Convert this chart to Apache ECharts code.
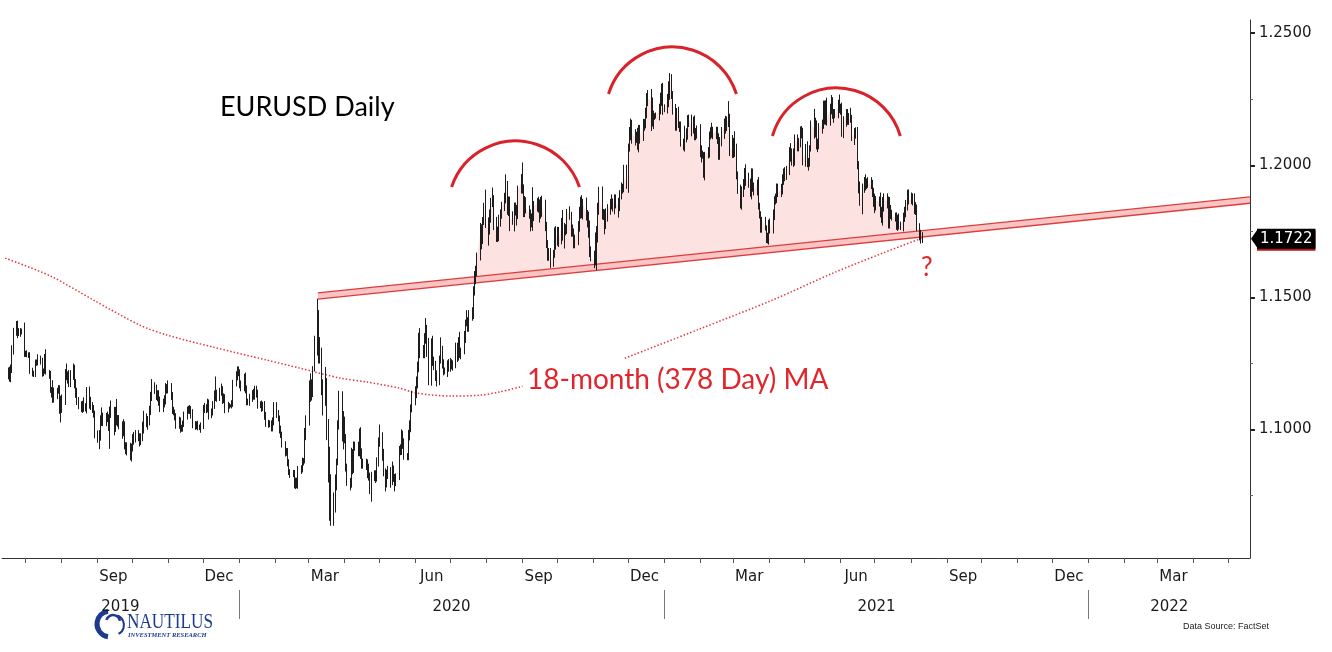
<!DOCTYPE html>
<html><head><meta charset="utf-8">
<script src="https://cdn.jsdelivr.net/npm/echarts@6/dist/echarts.min.js"></script>
<style>html,body{margin:0;padding:0;background:#fff}#c{width:1332px;height:652px}</style>
</head><body><div id="c"></div>
<script>
// ================= DATA =================
const MONTH_NAMES = ['Jan','Feb','Mar','Apr','May','Jun','Jul','Aug','Sep','Oct','Nov','Dec'];
const Y_TICKS = [1.1000, 1.1500, 1.2000, 1.2500];
const Y_MINOR_TICKS = [1.075, 1.125, 1.175, 1.225];
const LAST_PRICE = 1.1722;

// Daily EURUSD, one sub-array per month (weekdays). Price = 1 + pips/10000.
const MONTHS = ['2019-06','2019-07','2019-08','2019-09','2019-10','2019-11','2019-12',
  '2020-01','2020-02','2020-03','2020-04','2020-05','2020-06','2020-07','2020-08','2020-09','2020-10','2020-11','2020-12',
  '2021-01','2021-02','2021-03','2021-04','2021-05','2021-06','2021-07','2021-08'];
const FIRST_DAY_OF_FIRST_MONTH = 17;
const FIRST_OPEN_PIPS = 1210;
const CLOSE_PIPS = [
 [1220,1193,1226,1294,1370,1399,1366,1369,1372,1370],
 [1287,1288,1284,1283,1226,1213,1209,1253,1255,1270,1260,1212,1221,1274,1218,1210,1151,1141,1145,1127,1146,1156,1075],
 [1083,1108,1204,1199,1200,1176,1200,1215,1171,1140,1108,1092,1078,1097,1082,1081,1143,1099,1089,1078,1057,987],
 [970,973,1034,1034,1028,1043,1043,1010,1064,1074,1003,1071,1031,1040,1016,990,1019,940,922,940,899],
 [932,958,966,978,971,956,971,1005,1041,1029,1031,1070,1123,1171,1150,1127,1129,1105,1081,1099,1110,1151,1152],
 [1166,1127,1074,1066,1050,1018,1034,1008,1007,1022,1053,1072,1078,1074,1057,1020,1011,1021,1009,1008,1017],
 [1078,1081,1077,1102,1058,1065,1093,1128,1131,1120,1143,1149,1112,1122,1077,1090,1089,1090,1101,1178,1201,1212],
 [1213,1171,1160,1196,1152,1104,1105,1120,1134,1128,1151,1136,1091,1095,1082,1093,1052,1025,1019,1020,1008,1031,1094],
 [1059,1043,1000,980,944,913,915,873,840,832,837,790,803,791,847,853,879,882,996,1026],
 [1137,1175,1136,1237,1285,1449,1281,1268,1183,1105,1180,993,915,689,694,723,787,888,1030,1141,1039,1029],
 [963,856,802,795,891,856,935,939,914,984,909,867,875,862,856,822,776,820,826,823,875,955],
 [980,907,838,796,833,843,805,849,817,806,819,918,924,976,947,901,899,979,1005,1080,1102],
 [1134,1171,1232,1341,1290,1295,1340,1376,1300,1256,1336,1261,1245,1204,1178,1260,1307,1251,1220,1219,1242,1234],
 [1251,1238,1247,1309,1276,1330,1286,1300,1343,1406,1410,1385,1427,1443,1527,1570,1595,1655,1752,1717,1789,1848,1778],
 [1763,1798,1857,1877,1785,1735,1738,1783,1813,1842,1871,1931,1838,1857,1796,1795,1834,1830,1822,1903,1937],
 [1913,1854,1849,1838,1818,1780,1803,1814,1845,1861,1846,1813,1850,1840,1771,1707,1659,1672,1631,1665,1745,1721],
 [1747,1716,1781,1735,1762,1760,1825,1814,1745,1746,1706,1718,1769,1823,1862,1815,1858,1811,1795,1746,1673,1647],
 [1641,1716,1723,1828,1874,1815,1813,1779,1807,1833,1853,1860,1855,1870,1857,1842,1886,1915,1913,1962,1926],
 [2072,2115,2147,2122,2105,2107,2079,2133,2112,2146,2155,2198,2265,2254,2237,2167,2187,2187,2190,2213,2250,2297,2216],
 [2216,2250,2298,2325,2271,2222,2151,2207,2156,2156,2081,2077,2130,2107,2165,2172,2140,2164,2115,2121,2136],
 [2061,2041,2035,1963,2046,2049,2118,2119,2131,2119,2131,2106,2041,2092,2120,2157,2150,2165,2175,2075],
 [2048,2089,2062,1967,1917,1847,1900,1928,1984,1952,1930,1901,1978,1915,1906,1936,1848,1814,1765,1795,1763,1726,1730],
 [1779,1762,1813,1873,1872,1916,1900,1910,1946,1978,1965,1983,2039,2034,2034,2014,2097,2083,2088,2127,2122,2020],
 [2061,2013,2005,2066,2164,2131,2150,2075,2081,2145,2153,2225,2174,2226,2180,2213,2248,2191,2193,2193,2228],
 [2213,2212,2128,2166,2193,2173,2178,2176,2107,2121,2124,1996,1909,1860,1916,1941,1925,1930,1935,1925,1895,1858],
 [1849,1864,1867,1823,1792,1845,1874,1862,1776,1835,1812,1806,1802,1781,1793,1772,1770,1801,1818,1844,1888,1872],
 [1868,1869,1836,1832,1761,1736,1719,1722]
];
// high = max(open, close) + up wick ; low = min(open, close) - down wick (pips)
const WICK_UP_PIPS = [
 [15,18,20,25,15,12,13,15,12,10],
 [35,10,12,8,10,8,10,12,10,15,10,12,10,12,30,8,12,10,42,14,12,12,12],
 [45,25,25,46,20,25,25,35,30,20,18,15,15,12,25,18,18,20,25,15,15,15],
 [10,25,20,50,30,20,25,15,23,36,12,15,45,15,15,15,20,12,12,12,10],
 [15,25,25,20,20,15,15,25,30,20,20,20,20,20,8,20,20,20,20,18,20,25,20],
 [20,10,15,12,10,12,15,12,10,12,15,15,12,15,15,20,12,10,12,10,10],
 [15,20,15,15,12,15,15,20,70,20,15,25,15,15,12,15,10,5,10,10,20,27],
 [26,15,15,15,20,15,12,15,15,20,15,15,15,12,15,12,15,15,12,15,15,15,10],
 [10,15,10,15,12,12,15,15,15,10,10,10,15,15,15,12,15,10,10,28],
 [49,38,15,3,70,46,3,69,42,7,57,15,47,20,137,39,43,2,5,6,4,31],
 [20,20,15,15,40,35,20,15,15,20,25,20,15,15,25,15,15,20,20,20,20,15],
 [39,10,20,15,15,20,15,30,15,15,15,20,20,25,20,20,10,20,30,15,45],
 [30,30,25,25,43,25,25,46,20,47,9,19,15,15,20,20,42,10,15,15,20,25],
 [20,15,15,20,20,20,40,10,30,10,42,15,25,20,15,30,25,15,30,25,15,10,60],
 [25,35,20,39,10,20,30,30,20,20,25,35,10,25,25,30,25,25,20,20,30],
 [74,15,30,30,10,15,15,103,20,15,20,25,30,35,30,15,10,15,15,15,20,25],
 [20,20,20,50,20,15,10,20,10,30,15,20,20,20,19,25,15,20,20,30,45,20],
 [30,30,47,30,45,46,20,20,30,20,20,30,15,20,20,20,20,20,15,40,40],
 [10,30,30,25,15,20,35,20,20,30,20,20,8,20,35,20,20,10,10,20,25,12,15],
 [15,20,20,24,20,10,10,10,15,10,10,20,20,10,25,20,20,20,25,20,15],
 [20,15,15,15,5,20,10,25,30,15,15,15,15,15,25,20,30,20,68,20],
 [40,15,40,20,10,10,20,20,6,20,20,20,11,10,20,10,20,10,12,10,10,10,15],
 [15,20,20,10,20,15,15,20,20,10,15,15,30,45,30,30,20,20,15,20,22,20],
 [20,30,15,10,6,50,30,20,20,15,20,20,20,20,30,20,18,10,20,20,20],
 [40,20,25,20,20,20,20,40,15,20,20,21,20,30,15,15,25,20,20,20,20,20],
 [35,20,15,30,20,35,20,20,20,45,15,20,15,20,20,25,15,20,25,25,20,21],
 [25,25,25,25,20,20,20,25]
];
const WICK_DN_PIPS = [
 [20,12,14,12,10,15,20,12,18,10],
 [12,12,10,12,15,12,10,10,12,12,14,12,10,10,10,18,12,20,40,25,12,10,15],
 [48,20,15,12,25,15,15,12,15,20,15,15,12,15,15,12,20,20,15,15,12,20],
 [20,44,15,20,15,15,15,15,83,20,25,12,15,20,15,25,15,15,15,20,15],
 [20,15,15,15,15,20,15,15,20,20,30,15,15,15,15,15,20,15,15,15,15,15,15],
 [15,15,15,12,15,15,15,20,15,15,12,15,12,15,15,15,12,10,12,10,20],
 [15,15,15,12,20,15,12,15,20,15,12,15,15,12,15,12,10,5,10,15,15,15],
 [10,15,15,15,15,12,12,15,15,15,15,15,12,10,15,12,15,15,12,10,15,15,15],
 [15,12,15,12,12,15,12,12,12,15,12,12,15,13,15,15,15,15,10,36],
 [11,32,26,13,17,5,31,18,53,52,15,33,115,34,53,58,37,17,23,30,84,104],
 [15,15,15,25,15,25,20,15,15,15,20,15,15,15,40,15,20,49,15,25,20,15],
 [20,25,15,30,15,20,25,15,15,40,20,10,15,20,20,15,15,15,20,15,15],
 [10,15,15,15,20,20,25,15,25,88,90,20,20,20,15,10,10,20,15,10,20,15],
 [15,10,15,15,20,15,15,20,15,15,15,15,15,15,25,20,20,15,15,35,15,15,15],
 [67,25,15,15,30,25,25,25,15,15,15,15,25,30,45,20,45,20,50,25,10],
 [20,50,45,20,20,30,15,51,25,20,25,30,15,35,20,20,20,20,19,15,15,40],
 [25,25,15,20,50,25,20,20,15,15,20,20,20,20,25,15,20,20,30,20,20,10],
 [30,20,113,15,15,20,20,40,20,20,20,20,30,40,20,40,15,15,20,15,15],
 [30,20,20,40,30,20,20,30,30,20,15,15,20,30,107,20,30,15,10,20,20,25,25],
 [15,20,30,50,20,30,20,20,15,30,10,20,25,20,10,20,30,20,20,20,20],
 [30,30,10,10,20,20,20,20,15,20,20,25,20,20,20,20,30,20,20,40],
 [20,20,30,20,25,10,15,20,20,30,15,20,30,15,20,20,15,15,20,20,10,20,22],
 [30,20,20,20,20,15,20,20,20,20,25,20,20,20,35,20,15,30,30,20,20,20],
 [25,20,25,10,14,30,25,15,25,20,25,15,20,20,30,30,20,15,30,15,15],
 [15,20,20,25,20,20,20,15,15,30,20,11,15,13,45,20,20,15,15,15,15,15],
 [30,20,20,20,10,20,20,25,15,15,15,15,15,25,29,15,15,20,15,15,15,20],
 [15,20,20,20,10,20,15,13]
];

// 18-month (378 day) moving average (null = hidden under label)
const MA_DATES = ['2019-06-14','2019-07-23','2019-08-29','2019-10-08','2019-10-31','2019-12-10','2020-01-25',
  '2020-02-22','2020-03-28','2020-04-20','2020-05-18','2020-06-02','2020-07-01','2020-07-26','2020-08-12','2020-09-01',
  '2020-10-15','2020-11-28','2021-01-31','2021-04-04','2021-05-26','2021-07-08','2021-08-11'];
const MA_VALUES = [1.1649,1.1581,1.1490,1.1395,1.1358,1.1312,1.1263,
  1.1233,1.1195,1.1180,1.1157,1.1138,1.1127,1.1130,1.1142,1.1164,
  null,1.1270,1.1380,1.1490,1.1592,1.1668,1.1725];

// Neckline band (two parallel trend lines)
const NECK_DATES = ['2020-03-09','2022-05-21'];
const NECK_LOW = [1.1494, 1.1857];
const NECK_HIGH = [1.1517, 1.1881];

// Head-and-shoulders arcs
const ARC_START_DATES = ['2020-07-02','2020-11-14','2021-04-04'];
const ARC_END_DATES = ['2020-10-20','2021-03-04','2021-07-23'];
const ARC_END_PRICE = [1.1918, 1.2270, 1.2111];
const ARC_TOP_PRICE = [1.2092, 1.2448, 1.2293];

const YEAR_LABELS = ['2019','2020','2021','2022'];
const FIRST_MONTH_LABEL = '2019-09-15';

// ================= BUILD =================
const ts = s => Date.parse(s + 'T00:00:00Z');
const AX_MIN = Date.UTC(2019, 5, 11, 7);
const AX_MAX = Date.UTC(2022, 4, 19, 19);

const candles = [];
let prev = FIRST_OPEN_PIPS;
MONTHS.forEach((ym, mi) => {
  const [Y, M] = ym.split('-').map(Number);
  const cl = CLOSE_PIPS[mi], up = WICK_UP_PIPS[mi], dn = WICK_DN_PIPS[mi];
  if (cl.length !== up.length || cl.length !== dn.length) throw new Error('len mismatch ' + ym);
  let d = mi === 0 ? FIRST_DAY_OF_FIRST_MONTH : 1, k = 0;
  while (k < cl.length) {
    const dt = new Date(Date.UTC(Y, M - 1, d));
    if (dt.getUTCMonth() !== M - 1) throw new Error('too many values ' + ym);
    const wd = dt.getUTCDay();
    if (wd !== 0 && wd !== 6) {
      const o = prev, c = cl[k];
      const h = Math.max(o, c) + up[k], l = Math.min(o, c) - dn[k];
      candles.push([dt.getTime(), 1 + o / 1e4, 1 + c / 1e4, 1 + l / 1e4, 1 + h / 1e4]);
      prev = c; k++;
    }
    d++;
  }
});

const n0 = ts(NECK_DATES[0]), n1 = ts(NECK_DATES[1]);
const neckHighAt = t => NECK_HIGH[0] + (NECK_HIGH[1] - NECK_HIGH[0]) * (t - n0) / (n1 - n0);
const fillStart = candles.findIndex(b => b[0] > ts('2020-06-01') && b[2] > neckHighAt(b[0]));

const maData = MA_DATES.map((d, i) => [ts(d), MA_VALUES[i] == null ? '-' : MA_VALUES[i]]);

// x-axis ticks & labels (timestamps on a value axis)
const monthTicks = [];
for (let y = 2019; y <= 2022; y++) for (let m = 0; m < 12; m++) {
  const t = Date.UTC(y, m, 1);
  if (t > AX_MIN && t < AX_MAX) monthTicks.push(t);
}
const monthLabelPos = [];
for (let y = 2019; y <= 2022; y++) for (const m of [2, 5, 8, 11]) {
  const t = Date.UTC(y, m, 15);
  if (t >= ts(FIRST_MONTH_LABEL) && t < AX_MAX) monthLabelPos.push(t);
}
const yearBounds = [AX_MIN, Date.UTC(2020,0,1), Date.UTC(2021,0,1), Date.UTC(2022,0,1), AX_MAX];
const yearLabelPos = YEAR_LABELS.map((_, i) => (yearBounds[i] + yearBounds[i + 1]) / 2);
const yearTicks = [Date.UTC(2020,0,1), Date.UTC(2021,0,1), Date.UTC(2022,0,1)];

const AXIS_FONT = 'DejaVu Sans';
const RED = '#e0262c';

const chart = echarts.init(document.getElementById('c'), null, {renderer: 'canvas'});
const yBase = {type: 'value', position: 'right', min: 1.0514, max: 1.2550, splitLine: {show: false}};
const xBase = {type: 'value', position: 'bottom', min: AX_MIN, max: AX_MAX, splitLine: {show: false}};

chart.setOption({
  animation: false,
  backgroundColor: '#fff',
  grid: {left: 2, right: 82, top: 20, bottom: 94, containLabel: false, outerBoundsMode: 'none'},
  xAxis: [
    Object.assign({}, xBase, {
     axisLine: {show: true, lineStyle: {color: '#333', width: 1}},
     axisTick: {show: true, customValues: monthTicks, length: 5, lineStyle: {color: '#555'}},
     axisLabel: {show: true, customValues: monthLabelPos, margin: 12, fontFamily: AXIS_FONT, fontSize: 15, color: '#1a1a1a',
       formatter: v => MONTH_NAMES[new Date(v).getUTCMonth()]}}),
    Object.assign({}, xBase, {offset: 32,
     axisLine: {show: false},
     axisTick: {show: true, customValues: yearTicks, length: 29, lineStyle: {color: '#777'}},
     axisLabel: {show: true, customValues: yearLabelPos, margin: 10, fontFamily: AXIS_FONT, fontSize: 15, color: '#1a1a1a',
       formatter: v => String(new Date(v).getUTCFullYear())}})
  ],
  yAxis: [
    Object.assign({}, yBase, {
      axisLine: {show: true, lineStyle: {color: '#333', width: 1}},
      axisTick: {show: true, customValues: Y_TICKS, length: 5, lineStyle: {color: '#222', width: 2}},
      axisLabel: {show: true, customValues: Y_TICKS, margin: 9, fontFamily: AXIS_FONT, fontSize: 15, color: '#1a1a1a',
        formatter: v => v.toFixed(4)}}),
    Object.assign({}, yBase, {
      axisLine: {show: false},
      axisTick: {show: true, customValues: Y_MINOR_TICKS, length: 3, lineStyle: {color: '#666'}},
      axisLabel: {show: false}}),
    Object.assign({}, yBase, {
      axisLine: {show: false}, axisTick: {show: false},
      axisLabel: {show: true, customValues: [LAST_PRICE], margin: 7, fontFamily: AXIS_FONT, fontSize: 15, color: '#fff',
        backgroundColor: '#000', padding: [3, 3, 2, 3], shadowColor: '#b01818', shadowOffsetY: 2, shadowBlur: 0,
        formatter: v => v.toFixed(4)}})
  ],
  series: [
    { // shaded area between price and neckline
      type: 'custom', xAxisIndex: 0, yAxisIndex: 0, z: 1, clip: true, silent: true,
      data: [[candles[fillStart][0], candles[fillStart][2]]],
      renderItem: (params, api) => {
        const pts = [];
        for (let i = fillStart; i < candles.length; i++) {
          const b = candles[i];
          pts.push(api.coord([b[0], Math.max(b[2], neckHighAt(b[0]))]));
        }
        const tEnd = candles[candles.length - 1][0], tSt = candles[fillStart][0];
        pts.push(api.coord([tEnd, neckHighAt(tEnd)]));
        pts.push(api.coord([tSt, neckHighAt(tSt)]));
        return {type: 'polygon', shape: {points: pts}, style: {fill: '#fde2e2', stroke: null}};
      }
    },
    { // neckline band
      type: 'custom', xAxisIndex: 0, yAxisIndex: 0, z: 3, clip: true, silent: true,
      data: [[n0, NECK_LOW[0]]],
      renderItem: (params, api) => {
        const A = api.coord([n0, NECK_LOW[0]]), B = api.coord([n1, NECK_LOW[1]]);
        const C = api.coord([n1, NECK_HIGH[1]]), D = api.coord([n0, NECK_HIGH[0]]);
        return {type: 'group', children: [
          {type: 'polygon', shape: {points: [A, B, C, D]}, style: {fill: '#f8c4c4', stroke: null}},
          {type: 'polyline', shape: {points: [A, B]}, style: {stroke: '#e03a3a', lineWidth: 1.3, fill: null}},
          {type: 'polyline', shape: {points: [D, C]}, style: {stroke: '#e03a3a', lineWidth: 1.3, fill: null}}
        ]};
      }
    },
    { // moving average
      type: 'line', xAxisIndex: 0, yAxisIndex: 0, z: 4, data: maData, showSymbol: false, connectNulls: false,
      smooth: 0.3, lineStyle: {color: '#e5363d', width: 1.5, type: [1.5, 2]}, silent: true
    },
    { // price bars
      type: 'candlestick', xAxisIndex: 0, yAxisIndex: 0, z: 5, data: candles, barWidth: 1,
      itemStyle: {color: '#8a8a8a', color0: '#8a8a8a', borderColor: '#1c1c1c', borderColor0: '#1c1c1c', borderWidth: 1},
      silent: true,
      markPoint: { // pointer of the last-price tag on the right axis
        silent: true, animation: false,
        data: [{coord: [AX_MAX, LAST_PRICE], symbol: 'path://M0,5 L7,0 L7,10 Z', symbolSize: [7, 20], symbolKeepAspect: false,
          symbolOffset: [4.5, 0], itemStyle: {color: '#000'}, label: {show: false}}]
      }
    },
    { // arcs
      type: 'custom', xAxisIndex: 0, yAxisIndex: 0, z: 6, clip: false, silent: true,
      encode: {x: [0, 2, 3], y: [1, 4]},
      data: ARC_START_DATES.map((s, i) => [(ts(s) + ts(ARC_END_DATES[i])) / 2, ARC_TOP_PRICE[i], ts(s), ts(ARC_END_DATES[i]), ARC_END_PRICE[i]]),
      renderItem: (params, api) => {
        const a = api.coord([api.value(2), api.value(4)]);
        const b = api.coord([api.value(3), api.value(4)]);
        const m = api.coord([api.value(0), api.value(1)]);
        const h = (b[0] - a[0]) / 2, s = a[1] - m[1];
        const R = (h * h + s * s) / (2 * s);
        const cx = (a[0] + b[0]) / 2, cy = m[1] + R;
        return {type: 'arc', shape: {cx, cy, r: R, startAngle: Math.atan2(a[1] - cy, a[0] - cx), endAngle: Math.atan2(b[1] - cy, b[0] - cx), clockwise: true},
          style: {stroke: '#d8232a', lineWidth: 3, fill: null}};
      }
    }
  ],
  graphic: [
    {type: 'text', x: 220, y: 107, z: 10, style: {text: 'EURUSD Daily', font: '27px Lato', fill: '#000', verticalAlign: 'middle'}},
    {type: 'text', x: 527, y: 380, z: 10, style: {text: '18-month (378 Day) MA', font: '28px Lato', fill: RED, verticalAlign: 'middle'}},
    {type: 'text', x: 921, y: 268, z: 10, style: {text: '?', font: '26px Lato', fill: RED, verticalAlign: 'middle'}},
    {type: 'text', x: 1183, y: 627, z: 10, style: {text: 'Data Source: FactSet', font: '9px "Liberation Sans"', fill: '#222', verticalAlign: 'middle'}},
    {type: 'group', x: 0, y: 0, z: 10, children: [
      {type: 'arc', shape: {cx: 110, cy: 624, r: 13, startAngle: Math.PI * 0.55, endAngle: Math.PI * 1.45, clockwise: true},
        style: {stroke: '#1d3a8f', lineWidth: 5, fill: null}},
      {type: 'arc', shape: {cx: 113, cy: 622, r: 7, startAngle: Math.PI * 1.1, endAngle: Math.PI * 1.95, clockwise: true},
        style: {stroke: '#1d3a8f', lineWidth: 2.5, fill: null}},
      {type: 'arc', shape: {cx: 114, cy: 625, r: 10, startAngle: Math.PI * 1.6, endAngle: Math.PI * 0.35, clockwise: true},
        style: {stroke: '#1d3a8f', lineWidth: 2, fill: null}},
      {type: 'text', x: 127, y: 622, scaleX: 0.82, style: {text: 'NAUTILUS', font: '21px "Liberation Serif"', fill: '#1d3a8f', verticalAlign: 'middle'}},
      {type: 'text', x: 128, y: 635, style: {text: 'INVESTMENT RESEARCH', font: 'italic bold 6.5px "Liberation Serif"', fill: '#1d3a8f', verticalAlign: 'middle'}}
    ]}
  ]
});
</script>
</body></html>
